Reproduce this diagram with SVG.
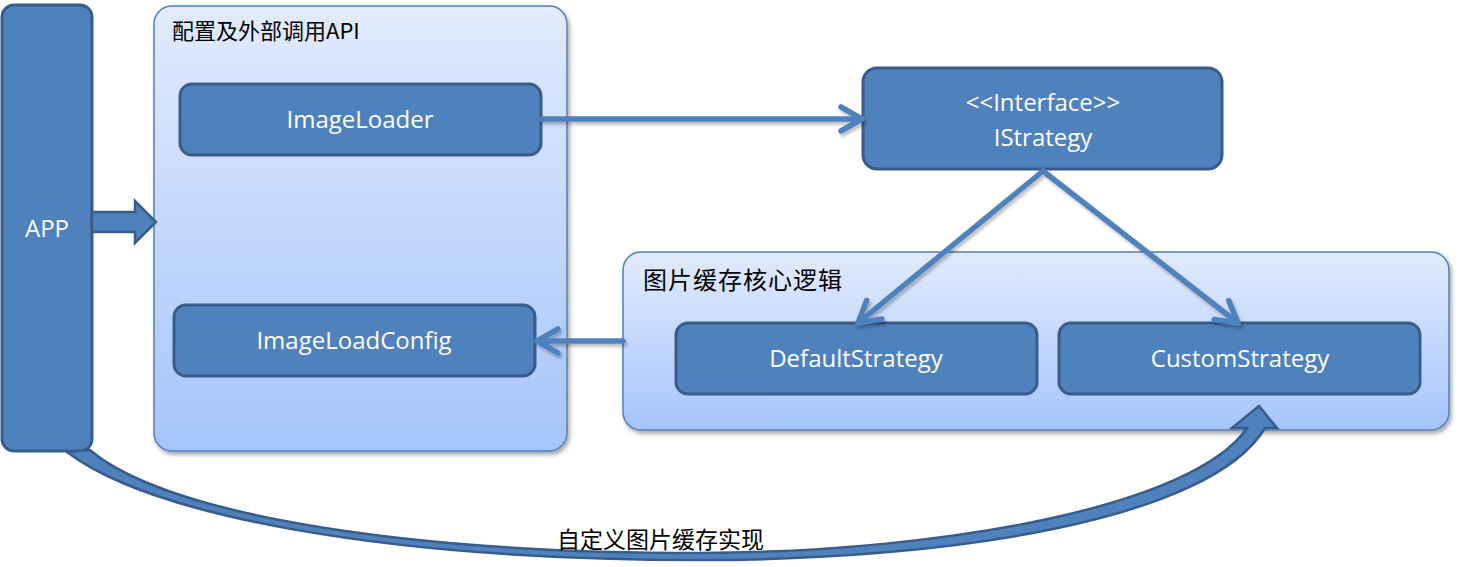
<svg xmlns="http://www.w3.org/2000/svg" width="1458" height="567" viewBox="0 0 1458 567">
<defs>
<linearGradient id="grpGrad" x1="0" y1="0" x2="0" y2="1">
<stop offset="0" stop-color="#e2ebfc"/>
<stop offset="1" stop-color="#a6c4fa"/>
</linearGradient>
<filter id="shadow" x="-10%" y="-10%" width="120%" height="125%">
<feDropShadow dx="2" dy="3" stdDeviation="2" flood-color="#000" flood-opacity="0.35"/>
</filter>
<filter id="lineShadow" x="-10%" y="-20%" width="120%" height="140%">
<feDropShadow dx="2" dy="3" stdDeviation="1.5" flood-color="#000" flood-opacity="0.25"/>
</filter>
<marker id="chev" viewBox="0 0 30 30" refX="27" refY="15" markerWidth="30" markerHeight="30" markerUnits="userSpaceOnUse" orient="auto">
<path d="M6 3 L27 15 L6 27" fill="none" stroke="#4f81bd" stroke-width="5.5" stroke-linecap="round" stroke-linejoin="round"/>
</marker>
</defs>
<style>
.group{fill:url(#grpGrad);stroke:#4f81bd;stroke-width:1.5;filter:url(#shadow)}
.node{fill:#4f81bd;stroke:#385d8a;stroke-width:3}
.ntext{font-family:"Open Sans","Liberation Sans",sans-serif;font-size:24px;fill:#ffffff;text-anchor:middle}
.title{font-family:"Noto Sans CJK SC","Noto Sans",sans-serif;fill:#000000}
.conn{fill:none;stroke:#4f81bd;stroke-width:5.5;stroke-linecap:round;marker-end:url(#chev)}
.block{fill:#4f81bd;stroke:#385d8a;stroke-width:2.5;stroke-linejoin:miter}
</style>

<g id="group-api">
<rect class="group" x="154" y="6" width="413" height="445" rx="18"/>
<text class="title" x="172" y="39" font-size="22">配置及外部调用API</text>
</g>

<g id="group-core">
<rect class="group" x="623" y="252" width="826" height="178" rx="18"/>
<text class="title" x="643" y="289" font-size="24" letter-spacing="1">图片缓存核心逻辑</text>
</g>

<g id="node-app">
<rect class="node" x="2" y="5" width="90" height="446" rx="12"/>
<text class="ntext" x="47" y="237">APP</text>
</g>

<g id="node-imageloader">
<rect class="node" x="180" y="84" width="361" height="71" rx="12"/>
<text class="ntext" x="360" y="128">ImageLoader</text>
</g>

<g id="node-imageloadconfig">
<rect class="node" x="174" y="305" width="361" height="71" rx="12"/>
<text class="ntext" x="354" y="349">ImageLoadConfig</text>
</g>

<g id="node-istrategy">
<rect class="node" x="863" y="68" width="359" height="101" rx="14"/>
<text class="ntext" x="1043" y="111">&lt;&lt;Interface&gt;&gt;</text>
<text class="ntext" x="1043" y="146">IStrategy</text>
</g>

<g id="node-default">
<rect class="node" x="676" y="323" width="361" height="71" rx="12"/>
<text class="ntext" x="856" y="367">DefaultStrategy</text>
</g>

<g id="node-custom">
<rect class="node" x="1059" y="323" width="361" height="71" rx="12"/>
<text class="ntext" x="1240" y="367">CustomStrategy</text>
</g>

<g id="connectors">
<path class="block" d="M92 212 L135 212 L135 201 L156 222 L135 243 L135 232 L92 232 Z"/>
<g filter="url(#lineShadow)">
<line class="conn" x1="541" y1="119" x2="862" y2="119"/>
<line class="conn" x1="623" y1="341" x2="537" y2="341"/>
<line class="conn" x1="1043" y1="171" x2="858" y2="323"/>
<line class="conn" x1="1043" y1="171" x2="1238" y2="323"/>
</g>
<path class="block" stroke-width="2" d="M67 452 C150 515 380 560 700 560 C950 560 1210 520 1265 428 L1277 428 L1259 406 L1232 428 L1247 428 C1195 505 950 552 700 553 C380 553 160 510 90 450 Z"/>
<text class="title" x="557" y="548" font-size="23">自定义图片缓存实现</text>
</g>
</svg>
